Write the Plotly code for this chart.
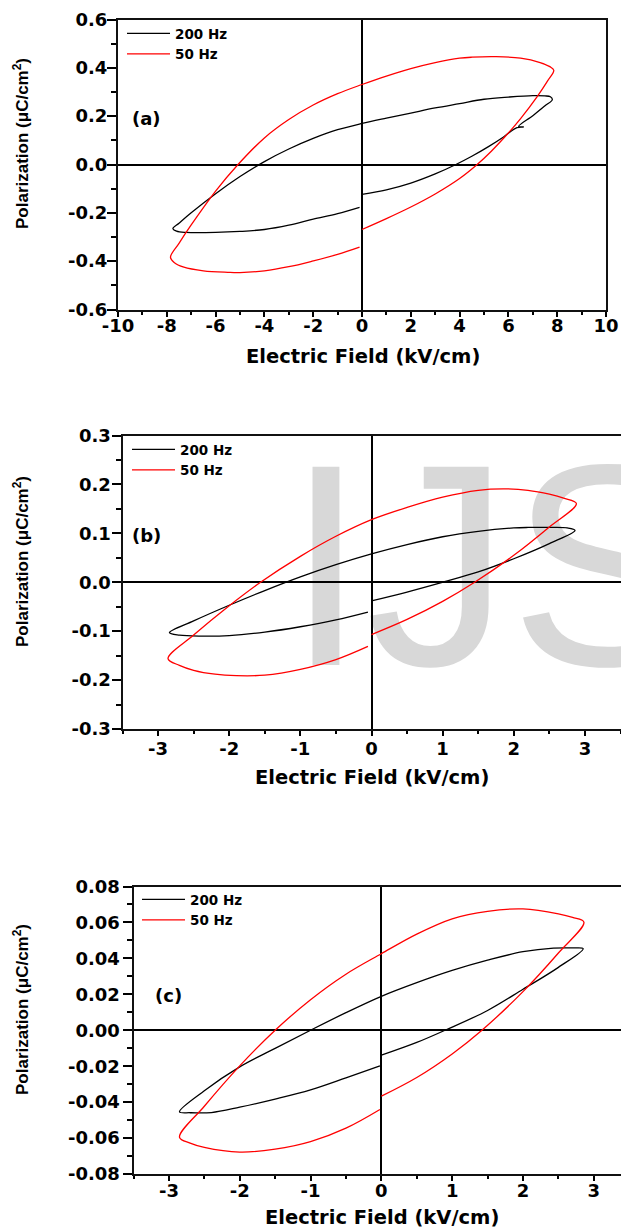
import plotly.graph_objects as go

W, H = 621, 1230

# ---- P-E hysteresis loops (electric field in kV/cm, polarization in uC/cm^2) ----
# (a)
E_a_200 = [0, 1, 2, 3, 3.85, 4.5, 5.2, 5.8, 6.35, 6.62, 6.42, 7.0, 7.5, 7.8, 7.72, 7.5, 7.0,
           6.0, 5.0, 4.0, 3.0, 2.0, 1.0, 0, -1, -2, -3, -4, -5, -6, -7, -7.5, -7.75,
           -7.6, -7.2, -6, -5, -4, -3, -2, -1, -0.1]
P_a_200 = [-0.124, -0.105, -0.077, -0.039, 0.0, 0.034, 0.075, 0.114, 0.153, 0.155, 0.158, 0.202,
           0.243, 0.268, 0.280, 0.284, 0.285, 0.279, 0.270, 0.252, 0.234, 0.213, 0.192, 0.170,
           0.144, 0.108, 0.064, 0.012, -0.050, -0.121, -0.200, -0.243, -0.265, -0.276,
           -0.281, -0.281, -0.277, -0.269, -0.251, -0.226, -0.203, -0.177]
E_a_50 = [0, 1, 2, 3, 4, 4.72, 5.3, 5.95, 6.5, 7.18, 7.6, 7.86, 7.7, 7.3, 6.5, 5.5, 4.5, 4, 3, 2,
          1, 0, -1, -2, -3, -4, -5.08, -6, -7, -7.5, -7.85, -7.7, -7.3, -6.5, -5.5, -5,
          -4, -3, -2, -1, -0.1]
P_a_50 = [-0.269, -0.224, -0.176, -0.122, -0.058, 0.0, 0.055, 0.125, 0.19, 0.281, 0.345, 0.39,
          0.405, 0.422, 0.44, 0.446, 0.444, 0.44, 0.422, 0.397, 0.366, 0.331, 0.293, 0.246,
          0.186, 0.110, 0.0, -0.110, -0.250, -0.326, -0.384, -0.405, -0.425, -0.44,
          -0.446, -0.447, -0.44, -0.423, -0.399, -0.372, -0.342]

# (b)
E_b_200 = [0, 0.5, 1, 1.5, 2, 2.5, 2.86, 2.75, 2.5, 2.2, 2, 1.5, 1, 0.5, 0, -0.5, -1,
           -1.5, -2, -2.5, -2.84, -2.7, -2.4, -2, -1.5, -1, -0.5, -0.05]
P_b_200 = [-0.038, -0.020, 0.0, 0.021, 0.048, 0.079, 0.106, 0.111, 0.112, 0.112, 0.111, 0.104,
           0.093, 0.077, 0.058, 0.036, 0.011, -0.017, -0.047, -0.079, -0.103, -0.108,
           -0.110, -0.109, -0.102, -0.091, -0.077, -0.061]
E_b_50 = [0, 0.5, 1, 1.45, 2, 2.5, 2.88, 2.7, 2.5, 2.2, 1.85, 1.5, 1, 0.5, 0, -0.5, -1, -1.56,
          -2, -2.5, -2.86, -2.7, -2.5, -2.2, -1.9, -1.5, -1, -0.5, -0.05]
P_b_50 = [-0.107, -0.076, -0.039, 0.0, 0.055, 0.113, 0.161, 0.172, 0.180, 0.188, 0.191, 0.188,
          0.174, 0.153, 0.128, 0.094, 0.053, 0.0, -0.048, -0.108, -0.156, -0.170, -0.180,
          -0.188, -0.191, -0.190, -0.178, -0.158, -0.131]

# (c)
E_c_200 = [0, 0.5, 0.9, 1.5, 2, 2.5, 2.85, 2.7, 2.43, 2, 1.5, 1, 0.5, 0, -0.5, -1, -1.5, -2,
           -2.5, -2.85, -2.7, -2.4, -2, -1.5, -1, -0.5, -0.02]
P_c_200 = [-0.0139, -0.0068, 0.0, 0.0110, 0.0228, 0.0350, 0.0454, 0.0458, 0.0457, 0.0437,
           0.0390, 0.0333, 0.0265, 0.0189, 0.0098, 0.0, -0.0101, -0.0204, -0.0337, -0.0454,
           -0.0459, -0.0458, -0.0428, -0.0383, -0.0332, -0.0265, -0.0198]
E_c_50 = [0, 0.5, 1, 1.42, 2, 2.5, 2.86, 2.7, 2.5, 2, 1.5, 1, 0.5, 0, -0.5, -1, -1.5, -2, -2.5,
          -2.85, -2.7, -2.5, -2, -1.5, -1, -0.5, -0.02]
P_c_50 = [-0.0367, -0.0263, -0.0132, 0.0, 0.0215, 0.0430, 0.0602, 0.0628, 0.0648, 0.0675,
          0.0662, 0.0620, 0.0535, 0.0426, 0.0312, 0.0170, 0.0, -0.0198, -0.0423, -0.0596,
          -0.0628, -0.0652, -0.0678, -0.0662, -0.0620, -0.0545, -0.0441]

# ---- tick values / labels ----
xa_vals = [-10, -8, -6, -4, -2, 0, 2, 4, 6, 8, 10]
xa_text = ["-10", "-8", "-6", "-4", "-2", "0", "2", "4", "6", "8", "10"]
ya_vals = [-0.6, -0.4, -0.2, 0.0, 0.2, 0.4, 0.6]
ya_text = ["-0.6", "-0.4", "-0.2", "0.0", "0.2", "0.4", "0.6"]
xbc_vals = [-3, -2, -1, 0, 1, 2, 3]
xbc_text = ["-3", "-2", "-1", "0", "1", "2", "3"]
yb_vals = [-0.3, -0.2, -0.1, 0.0, 0.1, 0.2, 0.3]
yb_text = ["-0.3", "-0.2", "-0.1", "0.0", "0.1", "0.2", "0.3"]
yc_vals = [-0.08, -0.06, -0.04, -0.02, 0.0, 0.02, 0.04, 0.06, 0.08]
yc_text = ["-0.08", "-0.06", "-0.04", "-0.02", "0.00", "0.02", "0.04", "0.06", "0.08"]

series = [
    ("x", "y", "legend", E_a_200, P_a_200, E_a_50, P_a_50),
    ("x2", "y2", "legend2", E_b_200, P_b_200, E_b_50, P_b_50),
    ("x3", "y3", "legend3", E_c_200, P_c_200, E_c_50, P_c_50),
]

fig = go.Figure()
for xa, ya, lg, e1, p1, e2, p2 in series:
    fig.add_trace(go.Scatter(x=e1, y=p1, mode="lines", name="200 Hz", legend=lg,
                             xaxis=xa, yaxis=ya, hoverinfo="skip",
                             line=dict(color="black", width=1.3, shape="spline", smoothing=1.0)))
    fig.add_trace(go.Scatter(x=e2, y=p2, mode="lines", name="50 Hz", legend=lg,
                             xaxis=xa, yaxis=ya, hoverinfo="skip",
                             line=dict(color="#ff0000", width=1.3, shape="spline", smoothing=1.0)))

TICK_FONT = dict(family="DejaVu Sans", size=18, color="black", weight="bold")


def px_x(v):
    return v / W


def px_y(v):
    return 1 - v / H


def xaxis(domain, rng, vals, text, minor_dtick, anchor, standoff):
    return dict(domain=domain, range=rng, anchor=anchor, tickmode="array",
                tickvals=vals, ticktext=text, tickfont=TICK_FONT, automargin=False,
                ticks="outside", ticklen=5, tickwidth=1.5, tickcolor="black",
                ticklabelstandoff=standoff,
                minor=dict(ticks="outside", ticklen=3, tickwidth=1.5, tickcolor="black",
                           tick0=0, dtick=minor_dtick, showgrid=False),
                showline=True, linewidth=2, linecolor="#111", mirror=True,
                showgrid=False, zeroline=True, zerolinecolor="black", zerolinewidth=1.6)


def yaxis(domain, rng, vals, text, minor_dtick, anchor, standoff):
    return dict(domain=domain, range=rng, anchor=anchor, tickmode="array",
                tickvals=vals, ticktext=text, tickfont=TICK_FONT, automargin=False,
                ticks="outside", ticklen=9, tickwidth=1.5, tickcolor="black",
                ticklabelstandoff=standoff,
                minor=dict(ticks="outside", ticklen=5, tickwidth=1.5, tickcolor="black",
                           tick0=0, dtick=minor_dtick, showgrid=False),
                showline=True, linewidth=2, linecolor="#111", mirror=True,
                showgrid=False, zeroline=True, zerolinecolor="black", zerolinewidth=1.6)


LEG_FONT = dict(family="DejaVu Sans", size=13.5, color="black", weight="bold")


def legend(x, y):
    return dict(x=px_x(x), y=px_y(y), xanchor="left", yanchor="top", xref="paper", yref="paper",
                bgcolor="rgba(0,0,0,0)", borderwidth=0, font=LEG_FONT, itemwidth=43,
                tracegroupgap=0, traceorder="normal")


fig.update_layout(
    width=W, height=H, margin=dict(l=0, r=0, t=0, b=0, pad=0, autoexpand=False),
    paper_bgcolor="white", plot_bgcolor="rgba(0,0,0,0)",
    xaxis=xaxis([px_x(118), px_x(606)], [-10, 10], xa_vals, xa_text, 1, "y", -6),
    yaxis=yaxis([px_y(309.5), px_y(19.5)], [-0.6, 0.6], ya_vals, ya_text, 0.1, "x", -4),
    xaxis2=xaxis([px_x(122.5), px_x(620.5)], [-3.5, 3.5], xbc_vals, xbc_text, 0.5, "y2", -3),
    yaxis2=yaxis([px_y(729), px_y(435.5)], [-0.3, 0.3], yb_vals, yb_text, 0.05, "x2", -3),
    xaxis3=xaxis([px_x(133.5), 1.0], [-3.5, 3.384], xbc_vals, xbc_text, 0.5, "y3", -6),
    yaxis3=yaxis([px_y(1174), px_y(886.5)], [-0.08, 0.08], yc_vals, yc_text, 0.01, "x3", -1),
    legend=legend(122, 18),
    legend2=legend(127, 434),
    legend3=legend(137, 884),
    showlegend=True,
)

# Journal watermark behind panel (b)
fig.add_shape(type="rect", xref="paper", yref="paper", layer="below",
              x0=px_x(286), x1=px_x(702), y0=px_y(638), y1=px_y(438),
              line=dict(width=0), fillcolor="rgba(0,0,0,0)",
              label=dict(text="IJS", textposition="middle center",
                         font=dict(family="Liberation Sans", size=288, color="#d8d8d8")))

TITLE_FONT = dict(family="DejaVu Sans", size=19.5, color="black", weight="bold")
YTITLE_FONT = dict(family="Liberation Sans", size=17, color="black", weight="bold")
PANEL_FONT = dict(family="DejaVu Sans", size=18, color="black", weight="bold")

for cx, cy in [(363, 356), (372, 777), (382, 1217)]:
    fig.add_annotation(text="Electric Field (kV/cm)", xref="paper", yref="paper",
                       x=px_x(cx), y=px_y(cy), xanchor="center", yanchor="middle",
                       showarrow=False, font=TITLE_FONT)

for cy in [144, 562, 1010]:
    fig.add_annotation(text="Polarization (\u03bcC/cm<sup>2</sup>)", xref="paper", yref="paper",
                       x=px_x(21), y=px_y(cy), xanchor="center", yanchor="middle",
                       textangle=-90, showarrow=False, font=YTITLE_FONT)

for label, cx, cy in [("(a)", 146, 118), ("(b)", 146.5, 535), ("(c)", 168.5, 995)]:
    fig.add_annotation(text=label, xref="paper", yref="paper", x=px_x(cx), y=px_y(cy),
                       xanchor="center", yanchor="middle", showarrow=False, font=PANEL_FONT)

fig.write_html(
    "out.html",
    post_script="document.body.style.margin='0';document.body.style.overflow='hidden';",
)
